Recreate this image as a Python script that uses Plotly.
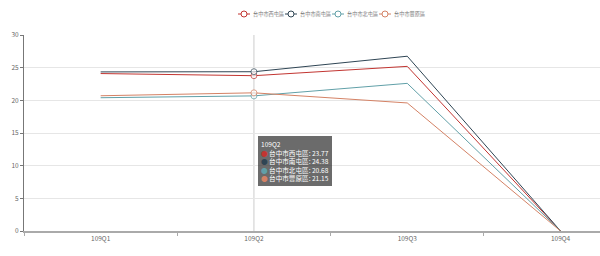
import plotly.graph_objects as go

quarters = ["109Q1", "109Q2", "109Q3", "109Q4"]
series_names = ["台中市西屯區", "台中市南屯區", "台中市北屯區", "台中市豐原區"]
xitun = [24.1, 23.77, 25.2, 0]
nantun = [24.35, 24.38, 26.75, 0]
beitun = [20.4, 20.68, 22.6, 0]
fengyuan = [20.7, 21.15, 19.6, 0]
colors = ["#c23531", "#2f4554", "#61a0a8", "#d48265"]
y_ticks = [0, 5, 10, 15, 20, 25, 30]
hover_index = 1

values = [xitun, nantun, beitun, fengyuan]
FONT = "Noto Sans CJK SC, Noto Sans, sans-serif"

W, H = 600, 256
ML, MR, MT, MB = 24, 0, 35, 25
plot_w = W - ML - MR
band = 153.3

fig = go.Figure()
for name, vals, c in zip(series_names, values, colors):
    sizes = [6 if i == hover_index else 0 for i in range(len(quarters))]
    fig.add_trace(go.Scatter(
        x=quarters, y=vals, name=name, mode="lines+markers",
        line=dict(color=c, width=1),
        marker=dict(size=sizes, color="white", line=dict(color=c, width=1)),
        showlegend=False, hoverinfo="skip",
    ))

# crosshair at hovered category
fig.add_shape(type="line", xref="x", yref="paper", x0=quarters[hover_index], x1=quarters[hover_index],
              y0=0, y1=1, line=dict(color="#cccccc", width=1), layer="below")

# tooltip
lines = [f"{quarters[hover_index]}"]
for name, vals, c in zip(series_names, values, colors):
    lines.append(f"<span style='color:{c}'>●</span> {name}: {vals[hover_index]:.2f}")
fig.add_annotation(xref="x", yref="y", x=quarters[hover_index], y=14.55,
                   xanchor="left", yanchor="top", xshift=4, align="left",
                   text="<br>".join(lines), showarrow=False,
                   font=dict(family=FONT, size=6.6, color="white"),
                   bgcolor="rgba(50,50,50,0.72)", borderwidth=0, borderpad=3)

# manual legend (top centre)
leg_y_px = 14
leg_start = 244
leg_step = 47
yp = (H - MB - leg_y_px) / (H - MT - MB)
for i, (name, c) in enumerate(zip(series_names, colors)):
    cx = leg_start + i * leg_step
    xp = (cx - ML) / plot_w
    fig.add_shape(type="line", xref="paper", yref="paper", x0=(cx - 6 - ML) / plot_w, x1=(cx + 6 - ML) / plot_w,
                  y0=yp, y1=yp, line=dict(color=c, width=1))
    fig.add_shape(type="circle", xref="paper", yref="paper", xsizemode="pixel", ysizemode="pixel",
                  xanchor=xp, yanchor=yp, x0=-3, x1=3, y0=-3, y1=3,
                  fillcolor="white", line=dict(color=c, width=1))
    fig.add_annotation(xref="paper", yref="paper", x=(cx + 7 - ML) / plot_w, y=yp,
                       xanchor="left", yanchor="middle", text=name, showarrow=False,
                       font=dict(family=FONT, size=5.2, color="#777"))

fig.update_layout(
    width=W, height=H, margin=dict(l=ML, r=MR, t=MT, b=MB),
    paper_bgcolor="white", plot_bgcolor="white",
    font=dict(family=FONT, size=7, color="#666"),
    showlegend=False,
)
fig.update_xaxes(type="category", categoryorder="array", categoryarray=quarters,
                 range=[-0.5, -0.5 + plot_w / band], tickson="boundaries",
                 showgrid=False, showline=True, linecolor="#aaaaaa", linewidth=2,
                 ticks="outside", ticklen=3, tickcolor="#aaaaaa",
                 tickfont=dict(size=6.5, color="#666"), zeroline=False)
fig.update_yaxes(range=[0, 30], tickvals=y_ticks, showgrid=True, gridcolor="#e6e6e6",
                 showline=True, linecolor="#777777", linewidth=1,
                 ticks="outside", ticklen=3, tickcolor="#777777",
                 tickfont=dict(size=6.5, color="#666"), zeroline=False)

fig.write_html("out.html")
